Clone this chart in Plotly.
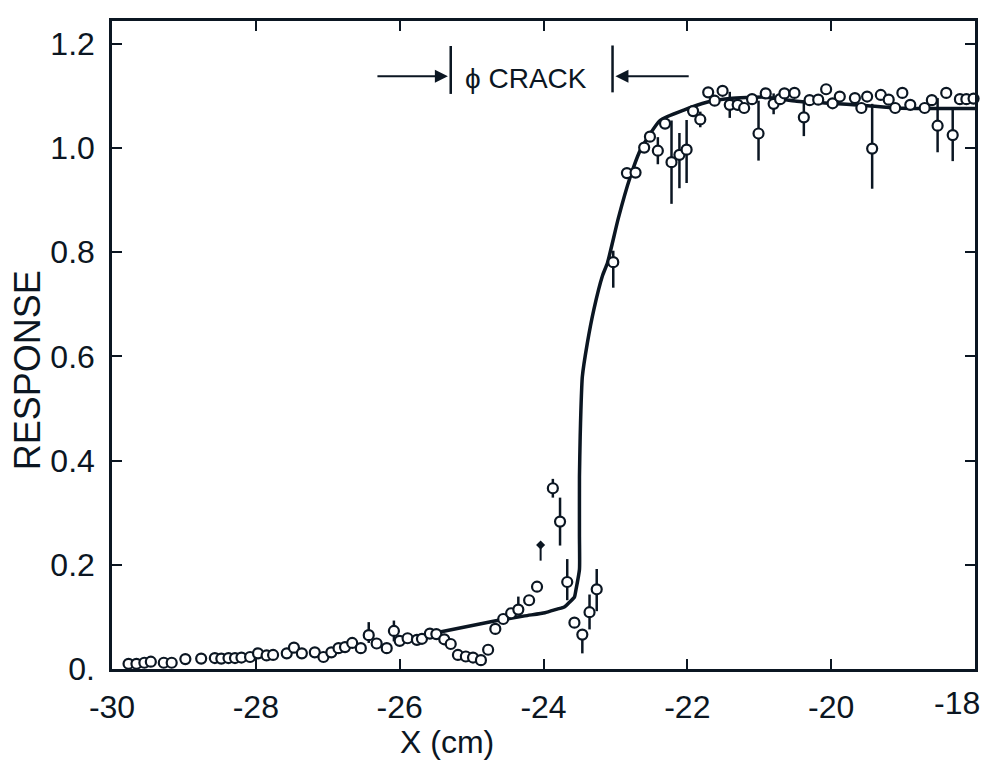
import plotly.graph_objects as go

# ---------------- data ----------------
x_data = [
    -29.77, -29.66, -29.55, -29.46, -29.28, -29.17, -28.98, -28.76, -28.57, -28.48,
    -28.38, -28.29, -28.20, -28.08, -27.97, -27.85, -27.76, -27.57, -27.47, -27.36,
    -27.18, -27.06, -26.95, -26.85, -26.76, -26.66, -26.54, -26.43, -26.32, -26.18,
    -26.08, -26.00, -25.89, -25.76, -25.69, -25.58, -25.49, -25.38, -25.29, -25.19,
    -25.08, -24.98, -24.87, -24.77, -24.67, -24.56, -24.45, -24.35, -24.20, -24.09,
    -23.87, -23.77, -23.67, -23.57, -23.46, -23.36, -23.26, -23.03, -22.84, -22.72,
    -22.60, -22.52, -22.41, -22.31, -22.22, -22.11, -22.01, -21.92, -21.82, -21.71,
    -21.62, -21.51, -21.41, -21.30, -21.21, -21.10, -21.01, -20.91, -20.80, -20.71,
    -20.65, -20.51, -20.38, -20.30, -20.18, -20.07, -19.98, -19.88, -19.67, -19.58,
    -19.50, -19.43, -19.31, -19.20, -19.11, -19.01, -18.90, -18.70, -18.60, -18.52,
    -18.40, -18.31, -18.21, -18.12, -18.02,
]
y_data = [
    0.010, 0.010, 0.012, 0.014, 0.012, 0.012, 0.019, 0.020, 0.021, 0.020,
    0.021, 0.021, 0.022, 0.023, 0.030, 0.026, 0.027, 0.030, 0.041, 0.030,
    0.032, 0.023, 0.032, 0.040, 0.042, 0.050, 0.040, 0.065, 0.049, 0.040,
    0.073, 0.054, 0.059, 0.056, 0.058, 0.068, 0.067, 0.057, 0.048, 0.027,
    0.024, 0.022, 0.017, 0.037, 0.077, 0.096, 0.107, 0.114, 0.132, 0.158,
    0.347, 0.283, 0.167, 0.089, 0.066, 0.109, 0.153, 0.781, 0.952, 0.953,
    1.001, 1.022, 0.995, 1.047, 0.973, 0.987, 0.997, 1.071, 1.055, 1.107,
    1.091, 1.110, 1.083, 1.083, 1.077, 1.094, 1.028, 1.105, 1.085, 1.094,
    1.105, 1.106, 1.059, 1.092, 1.093, 1.113, 1.086, 1.099, 1.096, 1.077,
    1.099, 0.999, 1.102, 1.093, 1.077, 1.106, 1.083, 1.077, 1.092, 1.043,
    1.106, 1.025, 1.094, 1.094, 1.095,
]
err_plus = [
    0, 0, 0, 0, 0, 0, 0, 0, 0, 0,
    0, 0, 0, 0, 0, 0, 0, 0, 0, 0,
    0, 0, 0, 0, 0, 0, 0, 0.025, 0, 0,
    0.02, 0, 0, 0, 0, 0, 0, 0, 0, 0,
    0, 0, 0, 0, 0, 0, 0, 0.025, 0, 0,
    0.018, 0.046, 0.044, 0, 0.01, 0.034, 0.039, 0.022, 0, 0,
    0, 0, 0.026, 0, 0.08, 0.042, 0.057, 0, 0.015, 0,
    0, 0, 0.025, 0, 0, 0, 0.063, 0, 0.02, 0,
    0, 0, 0.029, 0, 0, 0, 0, 0, 0, 0,
    0, 0.086, 0, 0, 0, 0, 0, 0, 0, 0.053,
    0, 0.053, 0, 0, 0,
]
err_minus = [
    0, 0, 0, 0, 0, 0, 0, 0, 0, 0,
    0, 0, 0, 0, 0, 0, 0, 0, 0, 0,
    0, 0, 0, 0, 0, 0, 0, 0.015, 0, 0,
    0.02, 0, 0, 0, 0, 0, 0, 0, 0, 0,
    0, 0, 0, 0, 0, 0, 0, 0.005, 0, 0,
    0.018, 0.046, 0.035, 0, 0.036, 0.033, 0.042, 0.049, 0, 0,
    0, 0, 0.026, 0, 0.08, 0.064, 0.064, 0, 0.015, 0,
    0, 0, 0.025, 0, 0, 0, 0.052, 0, 0.02, 0,
    0, 0, 0.036, 0, 0, 0, 0, 0, 0, 0,
    0, 0.077, 0, 0, 0, 0, 0, 0, 0, 0.051,
    0, 0.05, 0, 0, 0,
]

# small solid point near -24
x_small = [-24.04]
y_small = [0.238]
small_plus = [0.006]
small_minus = [0.03]

# fitted response curve
curve_x = [-25.44, -24.68, -24.26, -23.98, -23.81, -23.71, -23.64, -23.57, -23.55, -23.50,
           -23.50, -23.50, -23.49, -23.48, -23.46, -23.39, -23.30, -23.18, -23.11, -22.96,
           -22.80, -22.65, -22.38, -22.05, -21.73, -21.41, -20.94, -20.48, -20.02, -19.55,
           -19.09, -18.63, -18.00]
curve_y = [0.071, 0.092, 0.102, 0.108, 0.115, 0.119, 0.128, 0.138, 0.151, 0.191,
           0.254, 0.369, 0.446, 0.497, 0.561, 0.626, 0.690, 0.755, 0.780, 0.865,
           0.942, 0.997, 1.053, 1.073, 1.088, 1.095, 1.098, 1.090, 1.086, 1.082,
           1.077, 1.076, 1.076]

x_ticks = [-30, -28, -26, -24, -22, -20, -18]
x_tick_labels = ["-30", "-28", "-26", "-24", "-22", "-20", "-18"]
y_ticks = [0, 0.2, 0.4, 0.6, 0.8, 1.0, 1.2]
y_tick_labels = ["0.", "0.2", "0.4", "0.6", "0.8", "1.0", "1.2"]

crack_label = "\u03d5 CRACK"
crack_left = -25.29
crack_right = -23.04
crack_level = 1.138

ink = "#0b1622"
font_family = "Liberation Sans, Arial, sans-serif"
tick_font = dict(family=font_family, size=32, color=ink)

fig = go.Figure()

fig.add_trace(go.Scatter(
    x=curve_x, y=curve_y, mode="lines",
    line=dict(color=ink, width=3.5, shape="spline", smoothing=0.5),
    hoverinfo="skip", cliponaxis=False))

fig.add_trace(go.Scatter(
    x=x_data, y=y_data, mode="markers",
    marker=dict(symbol="circle", size=10, color="white", line=dict(color=ink, width=2.2)),
    error_y=dict(type="data", symmetric=False, array=err_plus, arrayminus=err_minus,
                 color=ink, thickness=2.5, width=0),
    cliponaxis=False))

fig.add_trace(go.Scatter(
    x=x_small, y=y_small, mode="markers",
    marker=dict(symbol="diamond", size=7, color=ink),
    error_y=dict(type="data", symmetric=False, array=small_plus, arrayminus=small_minus,
                 color=ink, thickness=2, width=0),
    cliponaxis=False))

axis_common = dict(
    ticks="inside", ticklen=10, tickwidth=2, tickcolor=ink,
    showline=True, linewidth=2.5, linecolor=ink, mirror="ticks",
    showgrid=False, zeroline=False, automargin=False,
)

# the last x label sits at the page edge, so it is placed as a right-anchored
# annotation under its tick instead of a centred axis label
axis_labels = x_tick_labels[:-1] + [""]
fig.update_xaxes(range=[-30, -18], tickmode="array", tickvals=x_ticks,
                 ticktext=axis_labels, ticklabelstandoff=8,
                 tickfont=tick_font, **axis_common)
fig.update_yaxes(range=[0, 1.244], tickmode="array", tickvals=y_ticks,
                 ticktext=y_tick_labels, ticklabelstandoff=8,
                 tickfont=tick_font, **axis_common)

fig.add_annotation(x=x_ticks[-1], y=0, xref="x", yref="paper", text=x_tick_labels[-1],
                   showarrow=False, xanchor="right", yanchor="top", xshift=7, yshift=-14,
                   font=tick_font)

# crack markers: vertical bars and arrows
for xv, y0, y1 in [(crack_left, 1.104, 1.196), (crack_right, 1.107, 1.197)]:
    fig.add_shape(type="line", xref="x", yref="y", x0=xv, x1=xv, y0=y0, y1=y1,
                  line=dict(color=ink, width=2.5))

fig.add_annotation(x=crack_left - 0.04, y=crack_level, ax=-26.33, ay=crack_level,
                   xref="x", yref="y", axref="x", ayref="y", text="",
                   showarrow=True, arrowhead=2, arrowsize=1.3, arrowwidth=2, arrowcolor=ink)
fig.add_annotation(x=crack_right + 0.04, y=crack_level, ax=-21.96, ay=crack_level,
                   xref="x", yref="y", axref="x", ayref="y", text="",
                   showarrow=True, arrowhead=2, arrowsize=1.3, arrowwidth=2, arrowcolor=ink)
fig.add_annotation(x=-24.24, y=1.134, xref="x", yref="y", text=crack_label,
                   showarrow=False, font=dict(family=font_family, size=28, color=ink))

# axis titles
fig.add_annotation(x=-0.0985, y=0.461, xref="paper", yref="paper", text="RESPONSE",
                   textangle=-90, showarrow=False, xanchor="center", yanchor="middle",
                   font=dict(family=font_family, size=36, color=ink))
fig.add_annotation(x=0.388, y=-0.112, xref="paper", yref="paper", text="X (cm)",
                   showarrow=False, xanchor="center", yanchor="middle",
                   font=dict(family=font_family, size=32, color=ink))

fig.update_layout(
    width=984, height=762,
    margin=dict(l=112, r=9, t=21, b=93),
    paper_bgcolor="white", plot_bgcolor="white",
    showlegend=False,
)

fig.write_html("out.html")
